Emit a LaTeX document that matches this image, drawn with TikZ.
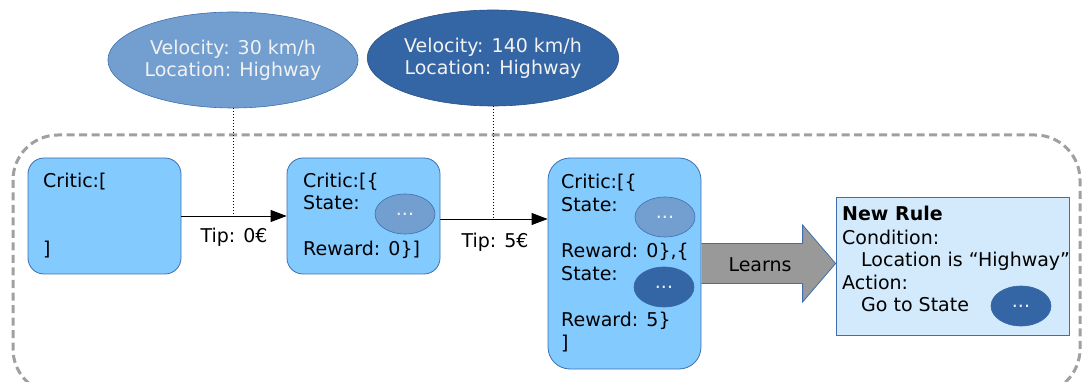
\documentclass[tikz,border=0pt]{standalone}
\usepackage{fontspec}
\setmainfont{DejaVu Sans}
\usetikzlibrary{calc,shapes.geometric,arrows.meta}

\definecolor{boxfill}{HTML}{83CAFF}
\definecolor{boxline}{HTML}{3F6FAF}
\definecolor{lightstate}{HTML}{729FCF}
\definecolor{darkstate}{HTML}{3465A4}
\definecolor{rulefill}{HTML}{D2EAFB}
\definecolor{framegray}{HTML}{A0A0A0}
\definecolor{learngray}{HTML}{999999}
\definecolor{paletext}{HTML}{F2F2F2}

\tikzset{
  critic/.style={draw=boxline, fill=boxfill, line width=0.8pt,
    minimum width=153pt, inner sep=0pt},
  statebubble/.style={ellipse, draw=boxline, line width=0.6pt,
    minimum width=60pt, minimum height=40pt, inner sep=0pt,
    text=paletext},
  observation/.style={ellipse, draw=boxline, line width=0.6pt,
    minimum width=200pt, minimum height=96pt, inner sep=0pt,
    text=paletext, align=center},
  txt/.style={anchor=base west, inner sep=0pt},
  tiplink/.style={-{Triangle[length=16pt,width=12pt]}, line width=0.9pt},
  probe/.style={dotted, line width=1pt},
}

\begin{document}
\begin{tikzpicture}[x=1pt, y=-1pt, font=\fontsize{19}{22}\selectfont]
  \useasboundingbox (0,0) rectangle (1082,382);

  % surrounding episode frame
  \draw[framegray, line width=3pt, dash pattern=on 8pt off 4.5pt,
        rounded corners=45pt] (13,135) rectangle (1080,394);

  % observations
  \node[observation, fill=lightstate] (e1) at (233,60)
    {Velocity: 30 km/h\\Location: Highway};
  \node[observation, fill=darkstate, draw=darkstate!80!black] (e2) at (493,58)
    {Velocity: 140 km/h\\Location: Highway};

  % critic memory snapshots
  \node[critic, minimum height=116pt, rounded corners=16pt] (b1) at (104.5,216) {};
  \node[critic, minimum height=116pt, rounded corners=16pt] (b2) at (363.5,216) {};
  \node[critic, minimum height=211pt, rounded corners=22pt] (b3) at (624.5,263.5) {};

  % learned rule
  \node[draw=boxline, fill=rulefill, line width=0.8pt, minimum width=233pt,
        minimum height=138pt, inner sep=0pt] (rule) at (952.5,266) {};

  % box 1 text
  \node[txt] (b1a) at (43,188) {Critic:[};
  \node[txt] (b1b) at (43,256) {]};

  % box 2 text
  \node[txt] (b2a) at (303,188) {Critic:[\{};
  \node[txt] (b2b) at (303,210) {State:};
  \node[txt] (b2c) at (303,256) {Reward: 0\}]};
  \node[statebubble, fill=lightstate] (s1) at (405,214) {...};

  % box 3 text
  \node[txt] (b3a) at (561,189) {Critic:[\{};
  \node[txt] (b3b) at (561,212) {State:};
  \node[txt] (b3c) at (561,258) {Reward: 0\},\{};
  \node[txt] (b3d) at (561,280) {State:};
  \node[txt] (b3e) at (561,326) {Reward: 5\}};
  \node[txt] (b3f) at (561,349) {]};
  \node[statebubble, fill=lightstate] (s2) at (665,217) {...};
  \node[statebubble, fill=darkstate, draw=darkstate] (s3) at (664,287) {...};

  % rule text
  \node[txt, font=\fontsize{19}{22}\selectfont\bfseries] (r1) at (842,221) {New Rule};
  \node[txt] (r2) at (842,244) {Condition:};
  \node[txt] (r3) at (861,266) {Location is “Highway”};
  \node[txt] (r4) at (842,289) {Action:};
  \node[txt] (r5) at (861,311) {Go to State};
  \node[statebubble, fill=darkstate, draw=darkstate] (s4) at (1021,306) {...};

  % tips between snapshots
  \coordinate (t2) at (b2.east |- 0,219);
  \draw[tiplink] (b1.east) -- (b2.west);
  \draw[tiplink] (t2) -- (b3.west |- t2);
  \node (tip1) at (234,237) {Tip: 0€};
  \node (tip2) at (495,242) {Tip: 5€};

  % observation probes
  \draw[probe] (e1.south) -- (e1.south |- b1.east);
  \draw[probe] (e2.south) -- (e2.south |- t2);

  % learning arrow
  \coordinate (tipL) at (rule.west |- b3.east);
  \draw[fill=learngray, draw=boxline, line width=0.8pt]
    ($(b3.east)+(0,-20)$) -- ($(tipL)+(-33,-20)$) -- ($(tipL)+(-33,-38.5)$)
    -- (tipL) -- ($(tipL)+(-33,38.5)$) -- ($(tipL)+(-33,20)$)
    -- ($(b3.east)+(0,20)$);
  \node (learns) at (760,265) {Learns};
\end{tikzpicture}
\end{document}
